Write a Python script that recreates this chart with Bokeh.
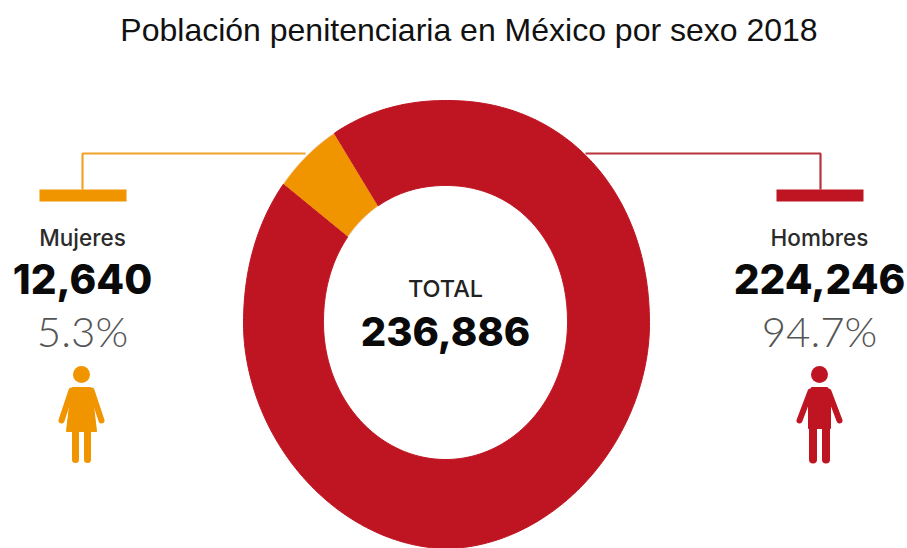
import numpy as np
from bokeh.embed import file_html
from bokeh.models import Range1d
from bokeh.plotting import figure
from bokeh.resources import INLINE
from bokeh.core.properties import value

title_text = "Población penitenciaria en México por sexo 2018"
categories = ["Mujeres", "Hombres"]
counts = [12640, 224246]
count_labels = ["12,640", "224,246"]
share_labels = ["5.3%", "94.7%"]
total_label = "TOTAL"
total_count = "236,886"

RED = "#BF1522"
ORANGE = "#F09400"
colors = [ORANGE, RED]
line_colors = ["#EFA32B", "#B8323E"]

# Ring geometry in page pixels; each rim is fuller above its centre than below
OUTER = dict(cx=446.0, cy=324.0, rx=203.0, ry=224.0, n_top=2.12, n_bottom=1.9)
INNER = dict(cx=445.0, cy=322.0, rx=122.0, ry=137.0, n_top=2.1, n_bottom=2.0)
FIRST_SLICE_START = 32.9  # degrees counter-clockwise from the top

p = figure(width=907, height=548, output_backend="svg", toolbar_location=None,
           x_range=Range1d(0, 907), y_range=Range1d(548, 0),
           min_border=0, outline_line_color=None, background_fill_color="white")
p.axis.visible = False
p.grid.visible = False


def arc(shape, start, sweep):
    t = np.radians(np.linspace(start, start + sweep, 360))
    s, c = np.sin(t), np.cos(t)
    n = np.where(c >= 0, shape["n_top"], shape["n_bottom"])
    r = (np.abs(s) ** n + np.abs(c) ** n) ** (-1 / n)
    return shape["cx"] - shape["rx"] * r * s, shape["cy"] - shape["ry"] * r * c


def ring_slice(start, sweep):
    ox, oy = arc(OUTER, start, sweep)
    ix, iy = arc(INNER, start, sweep)
    return np.r_[ox, ix[::-1]], np.r_[oy, iy[::-1]]


# Donut slices, sized from the counts
total = sum(counts)
start = FIRST_SLICE_START
for count, color in zip(counts, colors):
    sweep = count / total * 360
    xs, ys = ring_slice(start, sweep)
    p.patch(xs, ys, fill_color=color, line_color="#F8C9A0" if color == ORANGE else color,
            line_width=1)
    start += sweep

# Leader lines and the bars they end on
left_x, right_x = 82, 820
leader_y, bar_top, bar_bottom = 153, 189, 201
p.line([305, left_x, left_x], [leader_y, leader_y, bar_top], line_color=line_colors[0], line_width=2.2)
p.line([585, right_x, right_x], [leader_y, leader_y, bar_top], line_color=line_colors[1], line_width=2.2)
p.quad(left=[39, 776], right=[126, 863], top=[bar_top] * 2, bottom=[bar_bottom] * 2,
       fill_color=colors, line_color=None)


def label(x, y, text, size, color="#111111", font="Inter"):
    p.text([x], [y], text=[text], text_font=value(font), text_font_size=f"{size}px",
           text_color=color, text_align="center", text_baseline="middle")


label(468.5, 29, title_text, 32, color="#111111", font="Liberation Sans")

centers = [82, 819]
for cx, name, num, share in zip(centers, categories, count_labels, share_labels):
    label(cx, 237, name, 22.5, color="#2B2B2B", font="Inter Medium")
    label(cx, 278.5, num, 40.5, color="#0A0A0A", font="Inter ExtraBold")
    label(cx, 330, share, 42, color="#555555", font="Lato Light")

label(445, 288, total_label, 23.5, color="#222222", font="Inter Medium")
label(445, 330.5, total_count, 40, color="#0A0A0A", font="Inter ExtraBold")


def limb(cx, dx, dy, width, color):
    p.line(cx + np.asarray(dx), np.asarray(dy), line_color=color, line_width=width, line_cap="round")


# Woman pictogram
wx, wc = 81, colors[0]
p.ellipse([wx], [374], width=17, height=17, fill_color=wc, line_color=None)
p.patch(wx + np.array([-9, 9, 12, 15, -15, -12]),
        np.array([387, 387, 405, 431, 431, 405]),
        fill_color=wc, line_color=wc, line_width=1, line_join="round")
limb(wx, [-10, -20], [390, 420], 6, wc)
limb(wx, [10, 20], [390, 420], 6, wc)
limb(wx, [-6, -6], [430, 459], 7, wc)
limb(wx, [6, 6], [430, 459], 7, wc)

# Man pictogram
mx, mc = 819, colors[1]
p.ellipse([mx], [374], width=17, height=17, fill_color=mc, line_color=None)
p.patch(mx + np.array([-8, 8, 11, 11, -11, -11]), np.array([387, 387, 394, 428, 428, 394]),
        fill_color=mc, line_color=mc, line_width=1, line_join="round")
limb(mx, [-9, -20], [391, 420], 6, mc)
limb(mx, [9, 20], [391, 420], 6, mc)
limb(mx, [-6.5, -6.5], [425, 459], 8, mc)
limb(mx, [6.5, 6.5], [425, 459], 8, mc)

open("out.html", "w").write(file_html(p, INLINE))
